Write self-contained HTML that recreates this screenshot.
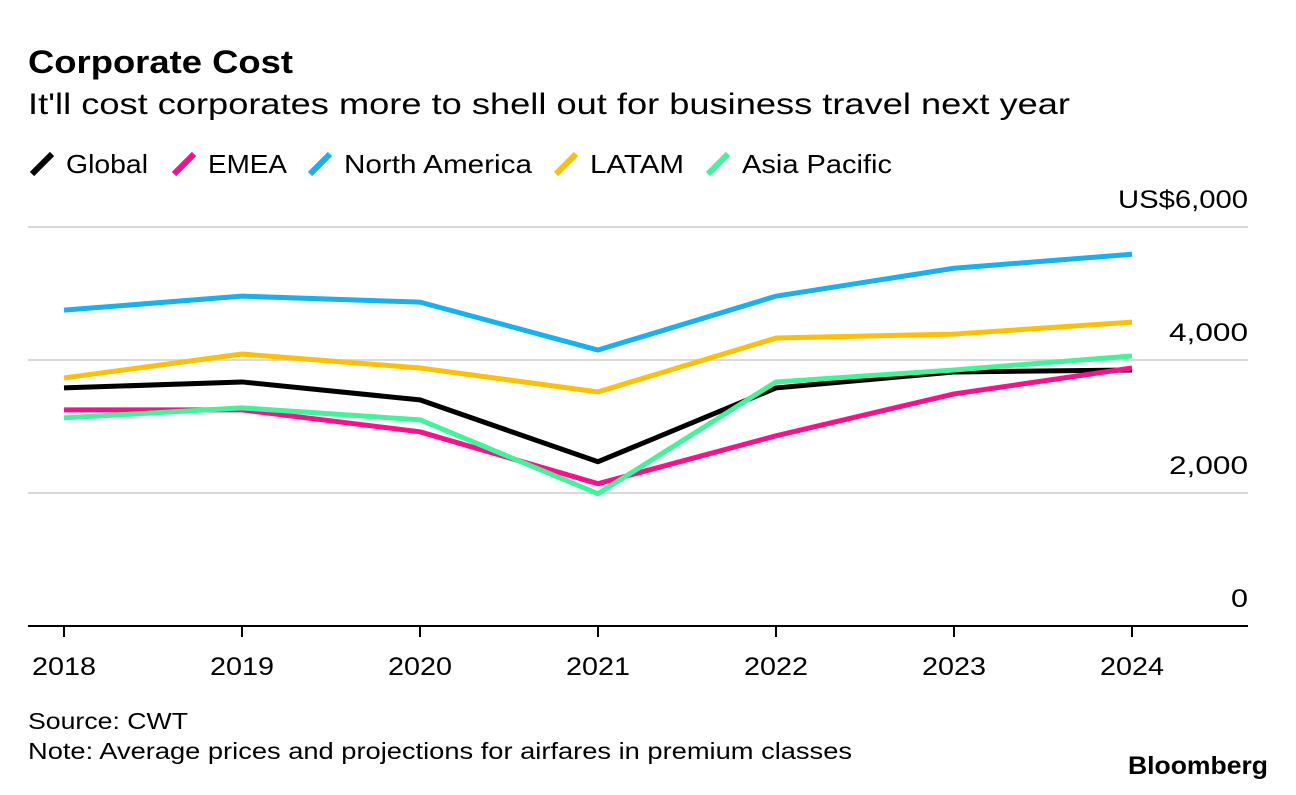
<!DOCTYPE html>
<html><head><meta charset="utf-8"><style>
body{margin:0;background:#fff;width:1296px;height:790px;overflow:hidden;font-family:"Liberation Sans",sans-serif}
</style></head><body>
<svg width="1296" height="790" font-family="Liberation Sans, sans-serif">
<text x="28" y="73" font-size="32" font-weight="bold" textLength="265" lengthAdjust="spacingAndGlyphs">Corporate Cost</text>
<text x="28" y="114" font-size="30" textLength="1042" lengthAdjust="spacingAndGlyphs">It'll cost corporates more to shell out for business travel next year</text>
<g id="legend"></g>
<g id="grid"></g>
<g id="lines"></g>
<text x="28" y="729" font-size="23" textLength="160" lengthAdjust="spacingAndGlyphs">Source: CWT</text>
<text x="28" y="759" font-size="23" textLength="824" lengthAdjust="spacingAndGlyphs">Note: Average prices and projections for airfares in premium classes</text>
<text x="1128" y="774" font-size="25" font-weight="bold" textLength="140" lengthAdjust="spacingAndGlyphs">Bloomberg</text>
</svg>
<script>
const years=["2018","2019","2020","2021","2022","2023","2024"];
const yTicks=[0,2000,4000,6000];
const seriesNames=["Global","EMEA","North America","LATAM","Asia Pacific"];
const colors=["#000000","#ff0d8c","#12b2f5","#ffc000","#3ff59a"];
const globalVals=[3580,3670,3400,2470,3580,3820,3850];
const emeaVals=[3250,3250,2920,2140,2860,3490,3880];
const naVals=[4750,4960,4870,4150,4960,5380,5590];
const latamVals=[3730,4090,3880,3520,4330,4390,4570];
const apacVals=[3130,3280,3100,1990,3670,3850,4060];
const allVals=[globalVals,emeaVals,naVals,latamVals,apacVals];
const NS="http://www.w3.org/2000/svg";
const x=i=>64+i*178;
const y=v=>626-v*(399/6000);
function mk(t,a,p){const e=document.createElementNS(NS,t);for(const k in a)e.setAttribute(k,a[k]);p.appendChild(e);return e;}
const grid=document.getElementById('grid');
yTicks.forEach(v=>{
 if(v>0){const l=mk('line',{x1:28,x2:1248,y1:y(v),y2:y(v),stroke:'#d9d9d9','stroke-width':2},grid);
 
 }
 const lab=v===6000?'US$6,000':v.toLocaleString('en-US');
 const t=mk('text',{x:1248,y:y(v)-19,'font-size':25,'text-anchor':'end',textLength:lab.length*17-(lab.indexOf(',')>=0?6:0),lengthAdjust:'spacingAndGlyphs'},grid);
 t.textContent=lab;
 
 
});
const ax=mk('line',{x1:28,x2:1248,y1:626,y2:626,stroke:'#000','stroke-width':2},grid);


years.forEach((yr,i)=>{
 const tk=mk('line',{x1:x(i),x2:x(i),y1:626,y2:637,stroke:'#000','stroke-width':2},grid);
 
 
 const t=mk('text',{x:x(i),y:675,'font-size':25,'text-anchor':'middle',textLength:64,lengthAdjust:'spacingAndGlyphs'},grid);
 t.textContent=yr;
 
 
});
const lines=document.getElementById('lines');
allVals.forEach((vals,s)=>{
 const p=mk('polyline',{points:vals.map((v,i)=>x(i)+','+y(v)).join(' '),fill:'none',stroke:colors[s],'stroke-width':5,'stroke-linejoin':'round'},lines);
 
 
});
const lg=document.getElementById('legend');
const lx=[30,172,308,554,706];
const lw=[82,79,188,94,150];
seriesNames.forEach((n,s)=>{
 const g=mk('g',{},lg);
 
 
 mk('line',{x1:lx[s]+2,y1:174,x2:lx[s]+22,y2:154,stroke:colors[s],'stroke-width':6},g);
 const t=mk('text',{x:lx[s]+36,y:173,'font-size':26,textLength:lw[s],lengthAdjust:'spacingAndGlyphs'},g);
 t.textContent=n;
});
</script>
</body></html>
